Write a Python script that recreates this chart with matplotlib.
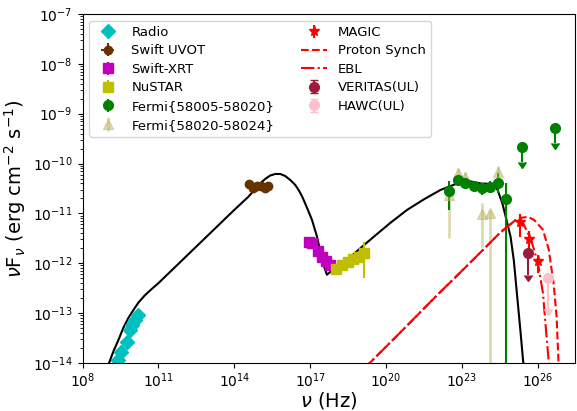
import numpy as np
import matplotlib
matplotlib.use('Agg')
import matplotlib.pyplot as plt
from matplotlib.ticker import NullLocator

# log10(nu), log10(nuFnu)
radio_x = [9.41, 9.52, 9.76, 9.88, 9.96, 10.08, 10.20]
radio_y = [-13.94, -13.78, -13.58, -13.34, -13.24, -13.14, -13.04]

uvot_x = [14.57, 14.73, 14.89, 15.05, 15.21, 15.32]
uvot_y = [-10.41, -10.49, -10.45, -10.45, -10.49, -10.45]

xrt_x = [16.94, 17.09, 17.29, 17.45, 17.61, 17.77]
xrt_y = [-11.57, -11.59, -11.75, -11.87, -11.95, -12.03]

nustar_x = [18.00, 18.24, 18.48, 18.71, 18.91, 19.11]
nustar_y = [-12.11, -12.03, -11.97, -11.91, -11.87, -11.79]
nustar_lo = [0.05, 0.05, 0.05, 0.05, 0.05, 0.50]
nustar_hi = [0.05, 0.05, 0.05, 0.05, 0.05, 0.22]

fermi1_x = [22.48, 22.83, 23.11, 23.47, 23.78, 24.10, 24.42, 24.73]
fermi1_y = [-10.55, -10.33, -10.39, -10.45, -10.49, -10.47, -10.39, -10.71]
fermi1_lo = [0.38, 0.10, 0.10, 0.10, 0.14, 0.12, 0.20, 9.0]
fermi1_hi = [0.20, 0.10, 0.10, 0.10, 0.10, 0.12, 0.20, 0.32]
fermi1_ul_x = [25.36, 26.66]
fermi1_ul_y = [-9.67, -9.29]

fermi2_x = [22.48, 22.83, 23.11, 23.78, 24.10, 24.42]
fermi2_y = [-10.63, -10.19, -10.27, -11.01, -10.99, -10.17]
fermi2_lo = [0.86, 0.10, 0.10, 0.66, 9.0, 0.12]
fermi2_hi = [0.20, 0.10, 0.10, 0.22, 0.06, 0.12]

magic_x = [25.29, 25.65, 26.00]
magic_y = [-11.17, -11.51, -11.95]
magic_lo = [0.30, 0.20, 0.25]
magic_hi = [0.15, 0.15, 0.12]

veritas_x = [25.61]
veritas_y = [-11.79]
hawc_x = [26.40]
hawc_y = [-12.29]

# SSC model curve
model_x = [9.02, 9.22, 9.42, 9.61, 9.81, 10.01, 10.21, 10.47, 10.73, 11.00, 12.0, 13.0,
           14.0, 14.55, 14.83, 15.02, 15.22, 15.42, 15.62, 15.82, 16.01, 16.21, 16.41,
           16.54, 16.67, 16.80, 16.94, 17.07, 17.17, 17.27, 17.37, 17.47, 17.57, 17.66,
           18.06, 18.46, 18.98, 19.51, 20.17, 20.83, 21.49, 22.15, 22.81, 23.34, 23.73,
           24.13, 24.39, 24.59, 24.76, 24.92, 25.05, 25.18, 25.31, 25.44]
model_y = [-14.04, -13.77, -13.54, -13.30, -13.10, -12.94, -12.79, -12.64, -12.52, -12.40,
           -11.91, -11.42, -10.93, -10.67, -10.51, -10.40, -10.31, -10.24, -10.21, -10.21,
           -10.25, -10.33, -10.43, -10.53, -10.65, -10.80, -10.97, -11.13, -11.30, -11.47,
           -11.70, -11.93, -12.10, -12.23, -12.07, -11.93, -11.70, -11.47, -11.19, -10.93,
           -10.72, -10.53, -10.40, -10.36, -10.40, -10.41, -10.51, -10.79, -11.13, -11.47,
           -11.95, -12.66, -13.36, -14.10]

# proton synchrotron and EBL-absorbed version
ps_x = [19.0, 20.5, 22.0, 23.5, 24.5, 25.2, 25.6, 25.85, 26.2, 26.43, 26.62, 26.74, 26.82]
ps_y = [-14.18, -13.42, -12.65, -11.90, -11.39, -11.10, -11.07, -11.13, -11.33, -11.73,
        -12.40, -13.08, -14.05]
ebl_x = [19.0, 20.5, 22.0, 23.5, 24.5, 25.2, 25.41, 25.73, 26.0, 26.2, 26.32, 26.44]
ebl_y = [-14.18, -13.42, -12.65, -11.90, -11.39, -11.10, -11.19, -11.53, -11.99, -12.60,
         -13.34, -14.05]


def p(a):
    return 10 ** np.array(a)


def err(y, lo, hi):
    y = np.array(y); lo = np.array(lo); hi = np.array(hi)
    return [10 ** y - 10 ** (y - lo), 10 ** (y + hi) - 10 ** y]


fig, ax = plt.subplots(figsize=(5.77, 4.11), dpi=100)
plt.subplots_adjust(left=0.143, right=0.997, top=0.966, bottom=0.117)

ax.plot(p(model_x), p(model_y), color='k', lw=1.5, zorder=1)

h_radio, = ax.plot(p(radio_x), p(radio_y), 'D', color='c', ms=7, ls='none', label='Radio')
h_uvot = ax.errorbar(p(uvot_x), p(uvot_y), xerr=p(uvot_x) * 0.3, yerr=p(uvot_y) * 0.1,
                     fmt='o', color='#663300', ms=6, label='Swift UVOT')
h_xrt = ax.errorbar(p(xrt_x), p(xrt_y), yerr=p(xrt_y) * 0.1, fmt='s', color='m', ms=7,
                    label='Swift-XRT')
h_nu = ax.errorbar(p(nustar_x), p(nustar_y), yerr=err(nustar_y, nustar_lo, nustar_hi),
                   fmt='s', color='y', ms=7, elinewidth=1.5, label='NuSTAR')
h_f2 = ax.errorbar(p(fermi2_x), p(fermi2_y), yerr=err(fermi2_y, fermi2_lo, fermi2_hi),
                   fmt='^', color='darkkhaki', alpha=0.5, ms=7, elinewidth=2,
                   label='Fermi{58020-58024}')
h_f1 = ax.errorbar(p(fermi1_x), p(fermi1_y), yerr=err(fermi1_y, fermi1_lo, fermi1_hi),
                   fmt='o', color='g', ms=7, elinewidth=1.5, label='Fermi{58005-58020}')
ax.errorbar(p(fermi1_ul_x), p(fermi1_ul_y), yerr=p(fermi1_ul_y) * 0.5, uplims=True,
            fmt='o', color='g', ms=7, elinewidth=1.5)

h_ps, = ax.plot(p(ps_x), p(ps_y), 'r--', lw=1.5, label='Proton Synch')
h_ebl, = ax.plot(p(ebl_x), p(ebl_y), 'r-.', lw=1.5, label='EBL')

h_magic = ax.errorbar(p(magic_x), p(magic_y), yerr=err(magic_y, magic_lo, magic_hi),
                      fmt='*', color='r', ms=8, elinewidth=1.5, label='MAGIC')
h_ver = ax.errorbar(p(veritas_x), p(veritas_y), yerr=p(veritas_y) * 0.64, uplims=True,
                    fmt='o', color='#9e1a3a', ms=7, capsize=3, elinewidth=1.5,
                    label='VERITAS(UL)')
h_hawc = ax.errorbar(p(hawc_x), p(hawc_y), yerr=p(hawc_y) * 0.77, uplims=True,
                     fmt='o', color='pink', ms=7, capsize=3, elinewidth=1.5,
                     label='HAWC(UL)')

ax.set_xscale('log')
ax.set_yscale('log')
ax.set_xlim(1e8, 3e27)
ax.set_ylim(1e-14, 1e-7)
ax.set_xticks([10.0 ** k for k in range(8, 27, 3)])
ax.xaxis.set_minor_locator(NullLocator())
ax.tick_params(axis='x', pad=2.5)
ax.set_xlabel(r'$\nu$ (Hz)', fontsize=14, labelpad=0)
ax.set_ylabel(r'$\nu$F$_{\nu}$ (erg cm$^{-2}$ s$^{-1}$)', fontsize=14)

handles = [h_radio, h_uvot, h_xrt, h_nu, h_f1, h_f2, h_magic, h_ps, h_ebl, h_ver, h_hawc]
ax.legend(handles=handles, labels=[h.get_label() for h in handles], ncol=2,
          loc='upper left', fontsize=9.5, labelspacing=0.42)

plt.savefig('out.png', dpi=100)
